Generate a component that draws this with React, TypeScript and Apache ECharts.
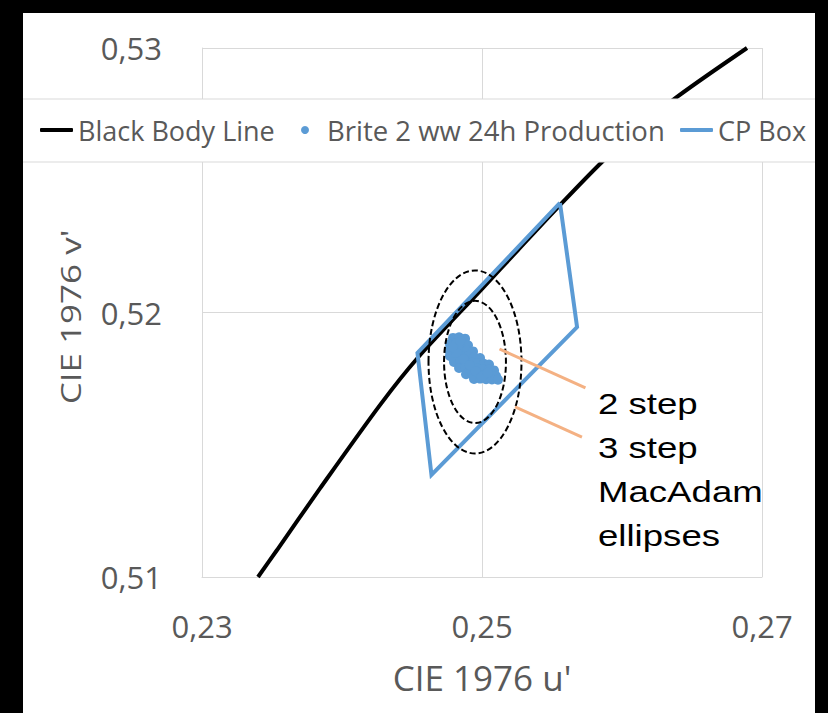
import React, { useEffect, useRef } from "react";
import * as echarts from "echarts";

// ---- Data ----
const seriesNames = ["Black Body Line", "Brite 2 ww 24h Production", "CP Box"];

// Black body line (u', v')
const bbU = [0.234, 0.23536, 0.23843, 0.24271, 0.24543, 0.25007, 0.25257, 0.25557, 0.25857, 0.26129, 0.26393, 0.26893];
const bbV = [0.51, 0.51102, 0.51335, 0.5165, 0.5183, 0.52093, 0.52236, 0.52406, 0.52569, 0.527, 0.52815, 0.53];

// Production measurements (u', v')
const prodU = [
  0.24793, 0.24836, 0.24879,
  0.24771, 0.24814, 0.24857, 0.249,
  0.24764, 0.24807, 0.2485, 0.24893, 0.24936,
  0.24771, 0.24814, 0.24857, 0.249, 0.24943, 0.24986,
  0.248, 0.24843, 0.24886, 0.24929, 0.24971, 0.25014, 0.2505,
  0.24836, 0.24879, 0.24921, 0.24964, 0.25007, 0.2505, 0.25086,
  0.24886, 0.24929, 0.24971, 0.25014, 0.25057, 0.251,
  0.24943, 0.24986, 0.25029, 0.25071, 0.25114,
  0.24822, 0.24868, 0.24912, 0.24955, 0.24998, 0.25041, 0.2479, 0.24845,
];
const prodV = [
  0.51904, 0.51906, 0.51901,
  0.51881, 0.51883, 0.51879, 0.51876,
  0.51858, 0.5186, 0.51856, 0.51857, 0.51853,
  0.51836, 0.51838, 0.51834, 0.51835, 0.51831, 0.51828,
  0.51813, 0.51815, 0.51812, 0.51811, 0.51809, 0.51806, 0.51803,
  0.5179, 0.51792, 0.51789, 0.51788, 0.51786, 0.51784, 0.51781,
  0.51767, 0.51768, 0.51766, 0.51764, 0.51762, 0.5176,
  0.51749, 0.5175, 0.51748, 0.51747, 0.51746,
  0.51847, 0.51824, 0.51801, 0.51778, 0.51757, 0.51772, 0.51869, 0.51892,
];

// CP box corners (closed)
const cpU = [0.25557, 0.25679, 0.24639, 0.24539, 0.25557];
const cpV = [0.52414, 0.51945, 0.51386, 0.51847, 0.52414];

// MacAdam ellipses: centre and semi-axes for 2 step and 3 step
const ellipseCenter = [0.2495, 0.51813];
const ellipseSemiU = [0.00221, 0.00332];
const ellipseSemiV = [0.00231, 0.00346];

// Annotation leader lines
const leader2U = [0.25125, 0.25739];
const leader2V = [0.51862, 0.51715];
const leader3U = [0.25236, 0.25714];
const leader3V = [0.51643, 0.51529];

const annotationLines = ["2 step", "3 step", "MacAdam", "ellipses"];

const xMin = 0.23, xMax = 0.27, xStep = 0.02;
const yMin = 0.51, yMax = 0.53, yStep = 0.01;

const zip = (a: number[], b: number[]) => a.map((v, i) => [v, b[i]]);
const fmt = (v: number) => v.toFixed(2).replace(".", ",");

const BLUE = "#5b9bd5";
const GREY_TEXT = "#595959";
const GRID = "#d9d9d9";

export default function App() {
  const ref = useRef<HTMLDivElement>(null);
  useEffect(() => {
    const chart = echarts.init(ref.current!, null, { renderer: "svg" });
    const legendBase: any = {
      top: 103,
      padding: 0,
      itemWidth: 33,
      itemHeight: 4,
      itemGap: 0,
      selectedMode: false,
      textStyle: { fontFamily: "Open Sans", fontSize: 27, color: GREY_TEXT, lineHeight: 28 },
    };
    const option: any = {
      animation: false,
      backgroundColor: "#fff",
      grid: { left: 179, right: 53, top: 35, bottom: 136, containLabel: false },
      xAxis: {
        type: "value",
        min: xMin,
        max: xMax,
        interval: xStep,
        axisLine: { show: true, lineStyle: { color: GRID, width: 1 } },
        axisTick: { show: false },
        splitLine: { show: true, lineStyle: { color: GRID, width: 1 } },
        axisLabel: {
          formatter: fmt,
          fontFamily: "Open Sans",
          fontSize: 31,
          color: GREY_TEXT,
          margin: 33,
        },
        name: "CIE 1976 u'",
        nameLocation: "middle",
        nameGap: 83,
        nameTextStyle: { fontFamily: "Open Sans", fontSize: 35, color: GREY_TEXT },
      },
      yAxis: {
        type: "value",
        min: yMin,
        max: yMax,
        interval: yStep,
        axisLine: { show: true, lineStyle: { color: GRID, width: 1 } },
        axisTick: { show: false },
        splitLine: { show: true, lineStyle: { color: GRID, width: 1 } },
        axisLabel: {
          formatter: fmt,
          fontFamily: "Open Sans",
          fontSize: 31,
          color: GREY_TEXT,
          margin: 40,
        },
      },
      legend: [
        { ...legendBase, left: 17, data: [{ name: seriesNames[0], icon: "roundRect" }] },
        {
          ...legendBase,
          left: 278,
          itemWidth: 8,
          itemHeight: 8,
          textStyle: { ...legendBase.textStyle, fontSize: 27.5, padding: [0, 0, 0, 13] },
          data: [{ name: seriesNames[1], icon: "circle" }],
        },
        { ...legendBase, left: 657, data: [{ name: seriesNames[2], icon: "roundRect" }] },
      ],
      graphic: [
        {
          type: "rect",
          z: 3,
          shape: { x: -2, y: 86, width: 796, height: 63 },
          style: { fill: "#fff", stroke: GRID, lineWidth: 1 },
        },
        {
          type: "text",
          x: 47,
          y: 304,
          rotation: Math.PI / 2,
          scaleY: 0.8,
          z: 3,
          style: {
            text: "CIE 1976 v'",
            fontFamily: "Open Sans",
            fontSize: 35,
            fill: GREY_TEXT,
            align: "center",
            verticalAlign: "middle",
            textAlign: "center",
            textVerticalAlign: "middle",
          },
        },
        ...annotationLines.map((t, i) => ({
          type: "text",
          x: 575,
          y: 391 + i * 44,
          scaleX: 1.22,
          z: 6,
          style: {
            text: t,
            fontFamily: "Liberation Sans, Arial",
            fontSize: 30,
            fill: "#000",
            align: "left",
            verticalAlign: "middle",
            textAlign: "left",
            textVerticalAlign: "middle",
          },
        })),
      ],
      series: [
        {
          name: seriesNames[0],
          type: "line",
          data: zip(bbU, bbV),
          smooth: 0.3,
          symbol: "none",
          lineStyle: { color: "#000", width: 4 },
          itemStyle: { color: "#000" },
          z: 2,
        },
        {
          name: seriesNames[1],
          type: "scatter",
          data: zip(prodU, prodV),
          symbol: "circle",
          symbolSize: 10,
          itemStyle: { color: BLUE, opacity: 1 },
          z: 2,
        },
        {
          name: seriesNames[2],
          type: "line",
          data: zip(cpU, cpV),
          symbol: "none",
          lineStyle: { color: BLUE, width: 4, join: "miter" },
          itemStyle: { color: BLUE },
          z: 2,
        },
        {
          name: "MacAdam ellipses",
          type: "custom",
          coordinateSystem: "cartesian2d",
          silent: true,
          z: 4,
          data: ellipseSemiU.map((su, i) => [ellipseCenter[0], ellipseCenter[1], su, ellipseSemiV[i]]),
          encode: { x: 0, y: 1 },
          renderItem: (params: any, api: any) => {
            const cu = api.value(0), cv = api.value(1);
            const c = api.coord([cu, cv]);
            const s = api.size([api.value(2) * 2, api.value(3) * 2], [cu, cv]);
            return {
              type: "ellipse",
              shape: { cx: c[0], cy: c[1], rx: s[0] / 2, ry: s[1] / 2 },
              style: { fill: "none", stroke: "#000", lineWidth: 2, lineDash: [6, 3] },
            };
          },
        },
        {
          name: "2 step leader",
          type: "line",
          data: zip(leader2U, leader2V),
          symbol: "none",
          silent: true,
          lineStyle: { color: "#f4b183", width: 3 },
          z: 5,
        },
        {
          name: "3 step leader",
          type: "line",
          data: zip(leader3U, leader3V),
          symbol: "none",
          silent: true,
          lineStyle: { color: "#f4b183", width: 3 },
          z: 5,
        },
      ],
    };
    chart.setOption(option);
    return () => chart.dispose();
  }, []);
  return (
    <div style={{ position: "fixed", left: 0, top: 0, width: 828, height: 713, background: "#000" }}>
      <div
        ref={ref}
        style={{ position: "absolute", left: 23, top: 13, width: 792, height: 700, background: "#fff" }}
      />
    </div>
  );
}
